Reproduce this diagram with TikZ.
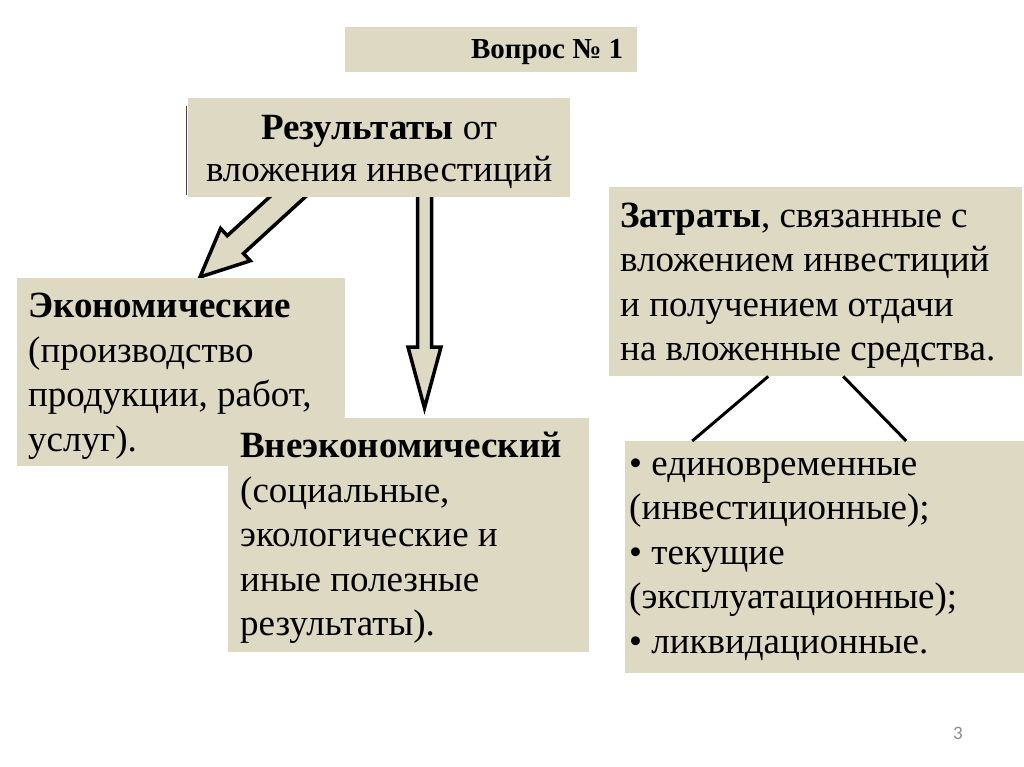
\documentclass[tikz,border=0pt]{standalone}
\usepackage{fontspec}
\setmainfont{Liberation Serif}
\newfontfamily\pnfont{Carlito}
\usetikzlibrary{calc}
\definecolor{boxfill}{HTML}{DDD9C3}
\definecolor{pngray}{HTML}{8C8C8C}
\begin{document}
\begin{tikzpicture}[x=1pt,y=-1pt,
  box/.style={fill=boxfill, draw=none, inner sep=0pt, anchor=north west},
  txt/.style={inner sep=0pt, align=left, anchor=west, font=\fontsize{37}{44.5}\selectfont},
  blockarrow/.style={draw=black, line width=3.5pt, fill=boxfill},
  link/.style={draw=black, line width=3pt}]
\path[use as bounding box, fill=white] (0,0) rectangle (1024,767);

% block arrows (behind the boxes)
\draw[blockarrow] (309.9,192.7) -- (243.5,253.5) -- (250.3,260.8) -- (200,277)
   -- (220.6,228.4) -- (227.3,235.7) -- (293.7,174.9) -- cycle;
\draw[blockarrow] (417.5,185) -- (417.5,347) -- (408,347) -- (424.5,408)
   -- (441,347) -- (431.5,347) -- (431.5,185) -- cycle;

% title
\node[box, minimum width=292, minimum height=45] (q) at (345,27) {};
\node[inner sep=0pt, anchor=east, font=\bfseries\fontsize{29}{32}\selectfont] (qt)
   at ($(q.east)+(-14,2)$) {Вопрос № 1};

% results box
\node[box, minimum width=382, minimum height=99] (res) at (188,98) {};
\draw[line width=1.5pt, black!75] ($(res.north west)+(-1.5,8)$) coordinate (rl1)
   -- ($(res.south west)+(-1.5,-2)$) coordinate (rl2);
\node[txt, anchor=center, align=center, font=\fontsize{37}{42}\selectfont] (rest)
   at ($(res.center)+(0,4)$) {\textbf{Результаты} от\\вложения инвестиций};

% economic
\node[box, minimum width=328, minimum height=188] (eco) at (17,278) {};
\node[txt] (ecot) at ($(eco.west)+(11,4)$)
   {\textbf{Экономические}\\(производство\\продукции, работ,\\услуг).};

% non-economic
\node[box, minimum width=361, minimum height=234] (neco) at (228,418) {};
\node[txt] (necot) at ($(neco.west)+(12,3)$)
   {\textbf{Внеэкономический}\\(социальные,\\экологические и\\иные полезные\\результаты).};

% costs
\node[box, minimum width=413, minimum height=189] (zat) at (609,187) {};
\node[txt] (zatt) at ($(zat.west)+(11,4)$)
   {\textbf{Затраты}, связанные с\\вложением инвестиций\\и получением отдачи\\на вложенные средства.};

% kinds of costs
\node[box, minimum width=399, minimum height=232] (kind) at (625,441) {};
\node[txt] (kindt) at ($(kind.west)+(4,2)$)
   {• единовременные\\(инвестиционные);\\• текущие\\(эксплуатационные);\\• ликвидационные.};

% links
\coordinate (z1) at ($(zat.south)+(-47.5,0)$);
\coordinate (z2) at ($(zat.south)+(27.5,0)$);
\coordinate (k1) at ($(kind.north)+(-132.5,0)$);
\coordinate (k2) at ($(kind.north)+(81.5,0)$);
\draw[link] (z1) -- (k1);
\draw[link] (z2) -- (k2);

% page number
\node[inner sep=0pt, text=pngray, font=\pnfont\fontsize{19}{22}\selectfont] (pn) at (958,733) {3};
\end{tikzpicture}
\end{document}
